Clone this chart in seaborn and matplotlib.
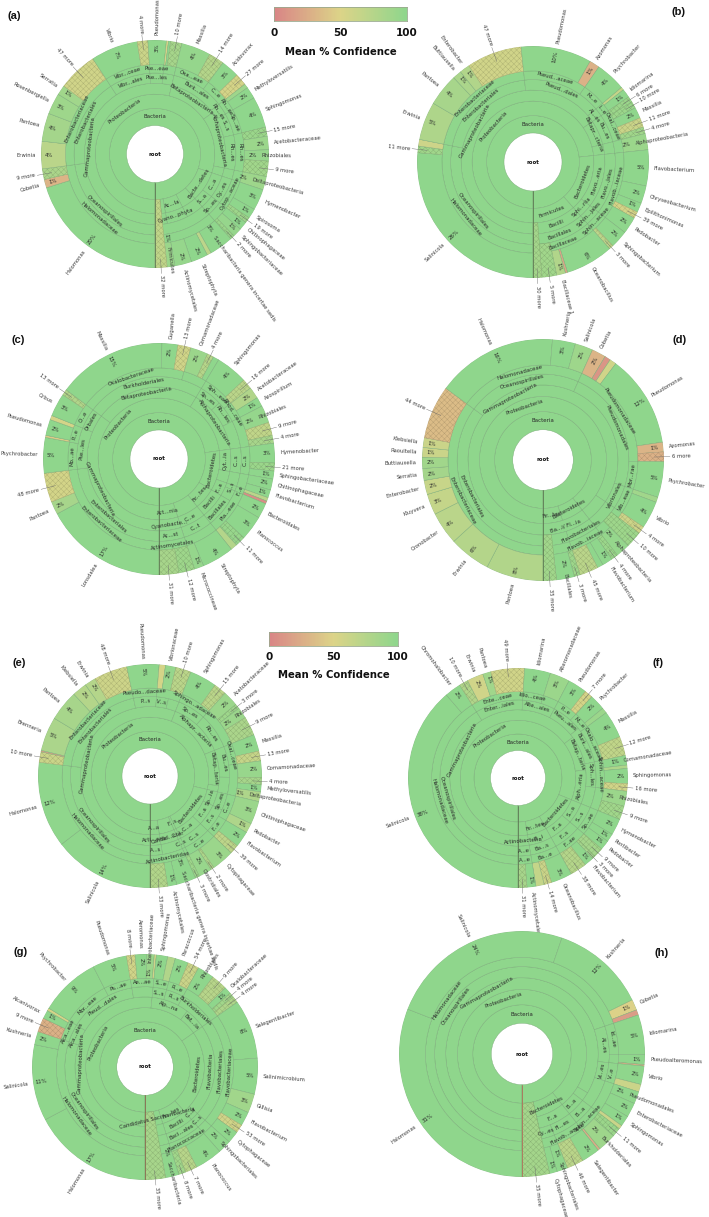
import numpy as np
import matplotlib
matplotlib.use("Agg")
import matplotlib.pyplot as plt
import seaborn as sns

W, H = 709, 1217
RADII = [0.25, 0.40, 0.525, 0.62, 0.71, 0.785, 1.0]

# panel (a)
a_names = ["Halomonas", "Cobetia", "9 more", "Erwinia", "Pantoea", "Rosenbergiella", "Serratia", "47 more", "Vibrio", "4 more",
           "Pseudomonas", "", "", "10 more", "Massilia", "14 more", "Acidovorax", "27 more", "", "Methyloversatilis",
           "Sphingomonas", "15 more", "Acetobacteraceae", "Rhizobiales", "9 more", "Deltaproteobacteria", "Hymenobacter",
           "Spirosoma", "19 more", "Chitinophagaceae", "Sphingobacteriaceae", "2 more", "Saccharibacteria genera incertae sedis",
           "", "Streptophyta", "Actinomycetales", "Firmicutes", "32 more"]
a_values = [20.2, 1.2, 1.5, 3.9, 4.0, 3.0, 1.4, 5.6, 6.7, 1.5, 2.6, 0.3, 0.3, 1.6, 4.2, 2.2, 2.6, 1.7, 0.6, 1.7, 4.4, 1.3,
            1.9, 1.6, 2.2, 1.9, 3.0, 1.4, 0.8, 1.2, 1.3, 0.6, 3.4, 0.6, 2.4, 2.4, 1.1, 1.7]
a_conf = [100, 30, 82, 72, 86, 90, 88, 58, 100, 62, 100, 55, 100, 85, 96, 76, 100, 55, 90, 100, 100, 92, 92, 95, 88, 90,
          100, 100, 90, 100, 95, 92, 100, 70, 100, 95, 92, 68]
a_rings = [
    [("Proteobacteria", 80.1), ("Bacte...detes", 88.4), ("", 92.4), ("Ac...la", 97.2), ("", 98.3)],
    [("Gammaproteobacteria", 53.8), ("Betaproteobacteria", 65.1), ("Alphaproteobacteria", 78.2), ("", 80.1), ("C...a", 85.3),
     ("S...a", 88.4), ("", 92.4), ("Cyano...phyta", 97.2)],
    [("Oceanospirillales", 22.9), ("Enterobacteriales", 40.8), ("Vibr...ales", 49), ("Pse...les", 51.6), ("", 53.8),
     ("Burk...ales", 64.5), ("Rh...es", 66.8), ("S...s", 71.2), ("Rh...es", 78.2), ("", 80.1), ("Cy...es", 85.3), ("Sp...es", 88.4)],
    [("Halomonadaceae", 22.9), ("Enterobacteriaceae", 40.8), ("Vibr...ceae", 49), ("Pse...eae", 51.6), ("", 53.8),
     ("Oxa...eae", 60.2), ("C...e", 64.5), ("Rh...ae", 66.8), ("Sp...ae", 71.2), ("Rh...es", 78.2), ("", 80.1), ("Cytop...aceae", 85.3),
     ("", 88.4)],
]
a_deep = {"32 more": 1}
a_inset = {"Firmicutes": 0.82, "Saccharibacteria genera incertae sedis": 0.89, "Deltaproteobacteria": 0.88, "Rhizobiales": 0.935}

# panel (b)
b_names = ["Salinicola", "11 more", "", "Erwinia", "Pantoea", "Buttiauxella", "Enterobacter", "47 more", "Pseudomonas", "Azomonas",
           "Psychrobacter", "", "Idiomarina", "6 more", "10 more", "Massilia", "11 more", "4 more", "Alphaproteobacteria",
           "Flavobacterium", "Chryseobacterium", "Epilithonimonas", "39 more", "Pedobacter", "Sphingobacterium", "3 more",
           "Oceanobacillus", "", "Bacillaceae 1", "5 more", "30 more"]
b_values = [25.6, 0.9, 0.9, 5.2, 4.4, 1.2, 1.4, 7.5, 9.6, 1.4, 4.1, 0.4, 1.2, 0.8, 0.9, 1.5, 1.3, 0.9, 2.2, 4.9, 2.4, 1.3,
            0.9, 2.3, 2.4, 0.6, 6.5, 0.3, 1.2, 2.0, 1.2]
b_conf = [100, 88, 60, 80, 84, 82, 78, 58, 100, 28, 100, 65, 100, 92, 92, 100, 62, 88, 92, 100, 100, 100, 55, 100, 100, 70,
          100, 20, 78, 88, 86]
b_rings = [
    [("Proteobacteria", 72.4), ("Bacteroidetes", 88.5), ("Firmicutes", 98.8)],
    [("Gammaproteobacteria", 63.7), ("Betapr...cteria", 70), ("", 72.4), ("Flavo...eria", 82.5), ("Sphi...riia", 88.5), ("Bacilli", 98.8)],
    [("Oceanospirillales", 27.3), ("Enterobacteriales", 47), ("Pseud...dales", 61.8), ("Al...es", 63.7), ("Bu...es", 70), ("", 72.4),
     ("Flavo...jales", 82.5), ("Sphin...jales", 88.5), ("Bacillales", 98.8)],
    [("Halomonadaceae", 27.3), ("Enterobacteriaceae", 47), ("Pseud...aceae", 57.7), ("M...e", 61.8), ("I...e", 63.7), ("Oxal...ceae", 70),
     ("", 72.4), ("Flavob...iaceae", 82.5), ("Sphin...aceae", 88.5), ("Bacillaceae", 98.8)],
]
b_deep = {"30 more": 2, "5 more": 4}
b_inset = {"Alphaproteobacteria": 0.90}

# panel (c)
c_names = ["Lonsdalea", "Pantoea", "48 more", "Psychrobacter", "", "Pseudomonas", "", "Orbus", "13 more", "Massilia", "Duganella",
           "13 more", "Comamonadaceae", "4 more", "", "Sphingomonas", "16 more", "Acetobacteraceae", "Azospirillum", "Rhizobiales",
           "9 more", "4 more", "Hymenobacter", "21 more", "Sphingobacteriaceae", "Chitinophagaceae", "Flavobacterium", "", "",
           "Bacteroidales", "Planococcus", "11 more", "", "Streptophyta", "Micrococcineae", "12 more", "31 more"]
c_values = [16.9, 1.8, 4.0, 4.9, 0.3, 2.2, 0.6, 3.2, 0.8, 15.0, 2.2, 1.8, 2.4, 0.9, 0.8, 4.4, 1.4, 1.6, 1.3, 2.4, 1.8, 1.1,
            2.7, 1.1, 1.1, 1.5, 1.1, 0.5, 0.4, 2.1, 3.4, 1.4, 0.9, 4.4, 1.3, 2.2, 2.7]
c_conf = [100, 84, 56, 100, 45, 100, 55, 100, 78, 100, 100, 58, 92, 75, 100, 100, 72, 78, 100, 96, 68, 84, 100, 92, 100, 100, 100,
          72, 5, 100, 100, 94, 76, 100, 96, 90, 84]
c_rings = [
    [("Proteobacteria", 72.5), ("Bacteroidetes", 83), ("Fir...tes", 89.1), ("", 93.8), ("Act...nia", 100)],
    [("Gammaproteobacteria", 34.7), ("Betaproteobacteria", 57.8), ("Alphaproteobacteria", 72.5), ("Cyt...ia", 76.3), ("", 78.9),
     ("F...a", 83), ("Bacilli", 89.1), ("C...e", 93.8), ("Cyanobacte...", 100)],
    [("Enterobacteriales", 22.7), ("Pse...les", 30.7), ("Orbales", 34.7), ("Burkholderiales", 57.8), ("Sp...es", 62.2), ("Rh...les", 66.8),
     ("", 72.5), ("C...s", 76.3), ("", 78.9), ("S...s", 80.9), ("", 83), ("Bacillales", 89.1), ("C...t", 93.8), ("Ac...st", 100)],
    [("Enterobacteriaceae", 22.7), ("Mo...ae", 27.6), ("P...e", 30.7), ("O...e", 34.7), ("Oxalobacteraceae", 53.7), ("", 57.8),
     ("Sph...eae", 63.6), ("Rhod...ceae", 66.8), ("", 72.5), ("C...s", 76.3), ("", 78.9), ("F...e", 80.9), ("Pla...eae", 89.1), ("", 93.8),
     ("Actinomycetales", 97.3)],
]
c_deep = {}
c_inset = {"Rhizobiales": 0.93}

# panel (d)
d_names = ["Pantoea", "Erwinia", "Cronobacter", "Kluyvera", "Enterobacter", "Serratia", "Buttiauxella", "Raoultella", "Klebsiella",
           "44 more", "Halomonas", "Kushneria", "Salinicola", "Cobetia", "", "", "Pseudomonas", "Azomonas", "6 more", "Psychrobacter", "",
           "Vibrio", "4 more", "10 more", "Alphaproteobacteria", "4 more", "Flavobacterium", "", "45 more", "3 more", "Bacillales", "35 more"]
d_values = [7.7, 5.6, 4.4, 2.8, 1.9, 1.6, 1.5, 1.3, 1.3, 7.2, 16.2, 3.1, 2.4, 1.9, 0.8, 0.9, 12.4, 1.3, 1.3, 4.8, 0.7, 3.7, 1.0,
            2.2, 1.9, 0.9, 1.4, 0.8, 2.5, 0.8, 2.4, 1.8]
d_conf = [78, 76, 72, 66, 64, 86, 88, 62, 62, 35, 100, 100, 90, 30, 10, 58, 100, 30, 28, 100, 88, 100, 60, 90, 96, 92, 100, 100, 72,
          90, 100, 88]
d_rings = [
    [("Proteobacteria", 89.4), ("Bacteroidetes", 95.8), ("Fir...tes", 100)],
    [("Gammaproteobacteria", 85.3), ("", 89.4), ("Ba...i/ Fl...ia", 100)],
    [("Enterobacteriales", 34.8), ("Oceanospirillales", 56.5), ("Pseudomonadales", 80.6), ("Vibrionales", 85.3), ("", 89.4),
     ("Flavobacteriales", 95.8)],
    [("Enterobacteriaceae", 34.8), ("Halomonadaceae", 56.5), ("Pseudomonadaceae", 75.1), ("Mor...rae", 80.6), ("Vib...eae", 85.3),
     ("", 89.4), ("Flavob...iaceae", 95.8)],
]
d_deep = {"35 more": 3, "10 more": 4}
d_inset = {"Alphaproteobacteria": 0.90, "Bacillales": 0.955}

# panel (e)
e_names = ["Salinicola", "Halomonas", "10 more", "", "Brenneria", "Pantoea", "Klebsiella", "Erwinia", "48 more", "Pseudomonas", "",
           "Vibrionaceae", "10 more", "Sphingomonas", "15 more", "Acetobacteraceae", "3 more", "Rhizobiales", "9 more", "Massilia",
           "13 more", "Comamonadaceae", "4 more", "Methyloversatilis", "Deltaproteobacteria", "Chitinophagaceae", "Pedobacter",
           "Flavobacterium", "39 more", "Cytophagaceae", "2 more", "Clostridiales", "3 more", "Saccharibacteria genera incertae sedis",
           "Actinomycetales", "33 more"]
e_values = [14.4, 12.3, 1.5, 0.2, 4.9, 4.4, 2.1, 1.6, 4.8, 4.6, 0.9, 1.5, 2.2, 3.9, 1.8, 2.2, 0.7, 1.6, 2.7, 2.4, 1.4, 2.4, 1.0,
            1.0, 1.4, 3.3, 1.4, 2.3, 1.3, 3.2, 0.5, 1.9, 0.6, 2.8, 1.3, 2.5]
e_conf = [100, 100, 62, 15, 82, 84, 76, 76, 60, 100, 55, 96, 72, 100, 72, 92, 90, 92, 82, 100, 65, 94, 85, 100, 80, 92, 80, 100, 70,
          92, 80, 94, 90, 100, 100, 78]
e_rings = [
    [("Proteobacteria", 78.2), ("Bacteroidetes", 90.9), ("F...s", 93.4), ("", 96.2), ("A...a", 100)],
    [("Gammaproteobacteria", 55.2), ("Alphapr...acteria", 68.1), ("Betap...teria", 76.5), ("", 78.2), ("Sp...ia", 81.6), ("F...a", 87.1),
     ("C...a", 90.9), ("C...i", 93.4), ("Candid...cter", 96.2), ("Acti...eria", 100)],
    [("Oceanospirillales", 26.7), ("Enterobacteriales", 46), ("P...s", 50.6), ("V...s", 53), ("", 55.2), ("Sp...es", 60.9), ("Rh...es", 68.1),
     ("Bu...es", 74.6), ("", 78.2), ("Sp...es", 81.6), ("F...s", 87.1), ("C...s", 90.9), ("C...s", 93.4), ("", 96.2), ("A...s", 100)],
    [("Halomonadaceae", 26.7), ("Enterobacteriaceae", 46), ("Pseudo...daceae", 50.6), ("", 55.2), ("Sphingo...adaceae", 60.9), ("", 68.1),
     ("Oxal...ceae", 72.1), ("", 78.2), ("C...e", 83.3), ("F...e", 87.1), ("C...e", 90.9), ("", 93.4), ("Actinobacteridae", 100)],
]
e_deep = {}
e_inset = {"Saccharibacteria genera incertae sedis": 0.90, "Deltaproteobacteria": 0.90, "Rhizobiales": 0.93, "Clostridiales": 0.955}

# panel (f)
f_names = ["Salinicola", "Chromohalobacter", "10 more", "Erwinia", "Pantoea", "49 more", "Idiomarina", "Alteromonadaceae", "Pseudomonas",
           "7 more", "Psychrobacter", "", "Massilia", "12 more", "Comamonadaceae", "", "Sphingomonas", "16 more", "Rhizobiales", "9 more",
           "Hymenobacter", "Pontibacter", "Pedobacter", "9 more", "3 more", "Flavobacterium", "38 more", "Oceanobacillus", "14 more", "",
           "Actinomycetales", "31 more"]
f_values = [38.4, 2.4, 1.3, 2.4, 1.2, 4.9, 3.8, 2.9, 2.8, 1.2, 2.3, 0.8, 4.0, 2.8, 1.4, 0.5, 2.2, 1.1, 2.2, 2.0, 2.4, 1.2, 1.4, 1.5,
            0.4, 1.4, 2.4, 3.1, 1.1, 1.2, 1.3, 1.3]
f_conf = [100, 100, 78, 58, 88, 58, 100, 92, 100, 55, 100, 92, 100, 68, 100, 80, 100, 58, 92, 88, 100, 100, 100, 86, 86, 100, 76, 100,
          62, 66, 100, 84]
f_rings = [
    [("Proteobacteria", 80.5), ("Bacteroidetes", 91.9), ("Fir...tes", 96.2)],
    [("Gammaproteobacteria", 64.3), ("Betap...teria", 72.5), ("Alph...eria", 80.5), ("S...a", 85.6), ("F...a", 91.9), ("B...i", 96.2),
     ("Actinobacteria", 100)],
    [("Oceanospirillales", 40.8), ("Enter...iales", 50.5), ("Alte...ales", 57.2), ("Pseu...ales", 63.5), ("Burk...ales", 71.1),
     ("Sph...les", 76.3), ("", 80.5), ("S...s", 85.6), ("F...s", 91.9), ("Ba...s", 96.2), ("A...e", 100)],
    [("Halomonadaceae", 40.8), ("Ente...ceae", 50.5), ("Idio...ceae", 54.3), ("", 57.2), ("P...e", 61.2), ("M...e", 64.3),
     ("Oxalo...aceae", 71.1), ("Sphin...aceae", 76.3), ("", 80.5), ("Sp...ae", 85.6), ("F...ae", 91.9), ("Ba...e", 96.2), ("A...e", 100)],
]
f_deep = {}
f_inset = {"Rhizobiales": 0.935, "Comamonadaceae": 0.975}

# panel (g)
g_names = ["Halomonas", "Salinicola", "Kushneria", "9 more", "Alcanivorax", "", "Psychrobacter", "Pseudomonas", "8 more", "Aeromonas",
           "Interobacteriaceae", "", "Sphingomonas", "", "Paracoccus", "54 more", "Rhizobiales", "9 more", "Oxalobacteraceae", "4 more",
           "4 more", "Salegentibacter", "Salinimicrobium", "Gillisia", "Flavobacterium", "53 more", "Cytophagaceae", "Sphingobacteriales",
           "Planococcus", "7 more", "8 more", "Saccharibacteria", "35 more"]
g_values = [17.1, 10.8, 1.9, 2.0, 1.2, 0.4, 8.6, 4.9, 1.2, 1.6, 1.1, 0.3, 1.6, 1.1, 1.9, 1.6, 2.4, 2.3, 1.0, 0.7, 0.9, 8.4, 5.1,
            2.7, 2.0, 1.2, 1.7, 1.9, 3.9, 1.7, 1.0, 1.9, 2.9]
g_conf = [100, 100, 100, 28, 100, 55, 100, 100, 58, 100, 92, 58, 100, 78, 100, 62, 100, 74, 100, 88, 80, 100, 100, 88, 100, 58,
          100, 100, 100, 74, 88, 100, 84]
g_rings = [
    [("Proteobacteria", 65.4), ("Bacteroidetes", 88.6), ("Fir...tes", 95.1), ("Candidatus Saccharibacteria", 97.1)],
    [("Gammaproteobacteria", 51.4), ("Alp...na", 60.4), ("Bet...ia", 65.4), ("Flavobacteria", 85), ("C...a", 88.6), ("Bacilli", 95.1)],
    [("Oceanospirillales", 30), ("Alca...ales", 33.6), ("Pleud...dales", 47.1), ("", 51.4), ("S...s", 54.4), ("R...s", 57.9),
     ("Burkholderiales", 65.4), ("Flavobacteriales", 85), ("C...s", 86.7), ("S...s", 88.6), ("Baci...ales", 95.1)],
    [("Halomonadaceae", 30), ("Alca...eae", 33.6), ("Mor...eae", 42.2), ("Ps...ae", 47.1), ("Ae...ae", 51.4), ("S...e", 54.4), ("R...e", 57.9),
     ("", 65.4), ("Flavobacteriaceae", 85), ("", 88.6), ("Planococcaceae", 95.1)],
]
g_deep = {"35 more": 1}
g_inset = {"Saccharibacteria": 0.86, "Rhizobiales": 0.935, "Interobacteriaceae": 0.92, "Sphingobacteriales": 0.94}

# panel (h)
h_names = ["Halomonas", "Salinicola", "Kushneria", "Cobetia", "", "Idiomarina", "Pseudoalteromonas", "", "Vibrio", "", "Pseudomonadales",
           "Enterobacteriaceae", "Sphingomonas", "", "11 more", "Burkholderiales", "", "Salegentibacter", "46 more", "Sphingobacteriales",
           "Cytophagaceae", "35 more"]
h_values = [30.8, 24.2, 12.4, 1.4, 0.7, 5.2, 1.3, 0.2, 2.4, 1.0, 1.6, 1.9, 1.4, 0.5, 1.2, 2.4, 0.3, 2.4, 2.2, 1.4, 1.0, 3.6]
h_conf = [100, 100, 100, 48, 15, 100, 100, 25, 100, 62, 100, 100, 100, 62, 92, 90, 25, 100, 72, 100, 100, 86]
h_rings = [
    [("Proteobacteria", 88.8), ("Bacteroidetes", 96.4)],
    [("Gammaproteobacteria", 83.1), ("", 85.2), ("B...a", 88.8), ("F...a", 96.4)],
    [("Oceanospirillales", 69.5), ("Al...es", 76.2), ("Vi...es", 79.6), ("", 85.2), ("B...a", 88.8), ("Fl...es", 93.7), ("Cy...es", 96.4)],
    [("Halomonadaceae", 69.5), ("Id...ae", 74.7), ("", 76.2), ("V...e", 79.6), ("", 85.2), ("Sphin...aceae", 88.8), ("Flavob...aceae", 93.7)],
]
h_deep = {"35 more": 1}
h_inset = {"Burkholderiales": 0.935, "Sphingobacteriales": 0.935, "Pseudomonadales": 0.935}

sns.set_theme(style="white")
plt.rcParams["font.family"] = ["DejaVu Sans"]
plt.rcParams["hatch.linewidth"] = 0.25

conf_cmap = sns.blend_palette(["#d98686", "#dcd488", "#8fd68c"], as_cmap=True)
EDGE = "#78aa76"
TEXT = "#2b2b2b"


def radial(t_deg):
    a = (-90 - t_deg) % 360
    if a < 90 or a > 270:
        return a, "left"
    return a + 180, "right"


def tangent(t_deg):
    rot = (-t_deg) % 180
    return rot if rot <= 90 else rot - 180


def spread(mids, gap=0.85):
    mids = list(mids)
    for _ in range(40):
        for i in range(len(mids) - 1):
            d = gap - (mids[i + 1] - mids[i])
            if d > 0:
                mids[i] -= d / 2
                mids[i + 1] += d / 2
    return mids


def draw_krona(pos, names, values, conf, rings, deep, inset, seam):
    cx, cy, radius = pos
    ax = fig.add_axes([(cx - radius) / W, 1 - (cy + radius) / H, 2 * radius / W, 2 * radius / H], projection="polar")
    ax.set_theta_zero_location("S")
    ax.set_theta_direction(-1)
    ax.set_ylim(0, 1)
    ax.axis("off")

    values = np.array(values, dtype=float)
    ends = np.cumsum(values)
    starts = ends - values
    scale = 2 * np.pi / ends[-1]
    to_deg = 360 / ends[-1]

    # Bacteria ring, then phylum to family
    ax.bar(0, RADII[1] - RADII[0], width=2 * np.pi, bottom=RADII[0], align="edge", color=conf_cmap(1.0), edgecolor=EDGE, linewidth=0.3)
    ax.text(np.pi, (RADII[0] + RADII[1]) / 2, "Bacteria", fontsize=4, color=TEXT, ha="center", va="center", rotation=0)
    ax.text(0, 0, "root", fontsize=4, weight="bold", color="#111111", ha="center", va="center")

    for level, nodes in enumerate(rings):
        r0, r1 = RADII[level + 1], RADII[level + 2]
        prev = 0.0
        for label, end in nodes + [("", ends[-1])]:
            snapped = ends[np.argmin(np.abs(ends - end))]
            if snapped <= prev:
                continue
            ax.bar(prev * scale, r1 - r0, width=(snapped - prev) * scale, bottom=r0, align="edge",
                   color=conf_cmap(1.0), edgecolor=EDGE, linewidth=0.3)
            if label:
                mid = (prev + snapped) / 2
                ax.text(mid * scale, (r0 + r1) / 2, label, fontsize=3.9, color=TEXT, ha="center", va="center",
                        rotation=tangent(mid * to_deg), rotation_mode="anchor", zorder=6)
            prev = snapped

    for name, start, val, c in zip(names, starts, values, conf):
        r0 = RADII[deep.get(name, 5)] if name else RADII[5]
        more = name.endswith(" more")
        fill = np.array(conf_cmap(c / 100)[:3])
        ax.bar(start * scale, 1 - r0, width=val * scale, bottom=r0, align="edge", color=fill,
               edgecolor=fill * 0.8 if more else EDGE, linewidth=0.3, hatch="xxxxxx" if more else None, zorder=3)

    shown = [i for i, n in enumerate(names) if n]
    mids = spread([starts[i] + values[i] / 2 for i in shown])
    for i, mid in zip(shown, mids):
        name = names[i]
        t = mid * to_deg
        rot, ha = radial(t)
        true_mid = (starts[i] + values[i] / 2) * scale
        if name.endswith(" more"):
            ax.plot([true_mid, mid * scale], [0.92, 1.05], color="#666666", lw=0.3, zorder=5, clip_on=False)
            ax.text(mid * scale, 1.065, name, fontsize=3.8, color="#3a3a3a", rotation=rot, ha=ha, va="center",
                    rotation_mode="anchor", clip_on=False, zorder=7)
        else:
            r_label = inset.get(name, 1.045)
            ax.text(mid * scale, r_label, name, fontsize=3.8, color="#3a3a3a", rotation=rot, ha=ha, va="center",
                    rotation_mode="anchor", clip_on=False, zorder=7)
            if values[i] >= 0.9:
                r_pct = r_label - 0.08 if name in inset else 0.93
                ax.text(true_mid, r_pct, f"{round(values[i])}%", fontsize=3.9, color=TEXT, rotation=rot, ha="center", va="center",
                        rotation_mode="anchor", zorder=6)

    ax.plot([0, 0], [RADII[0], 1], color=seam, lw=0.6, zorder=5)
    return ax


def color_bar(x0, x1, y0, y1, tick_y, title_y):
    ax = fig.add_axes([x0 / W, 1 - y1 / H, (x1 - x0) / W, (y1 - y0) / H])
    sns.heatmap(np.arange(0, 101).reshape(1, -1), cmap=conf_cmap, vmin=0, vmax=100, cbar=False,
                xticklabels=False, yticklabels=False, ax=ax)
    for spine in ax.spines.values():
        spine.set_visible(True)
        spine.set_color("#9aa98f")
        spine.set_linewidth(0.6)
    for frac, tick in zip([0, 0.5, 1], ["0", "50", "100"]):
        fig.text((x0 + frac * (x1 - x0)) / W, 1 - tick_y / H, tick, fontsize=7.5, weight="bold", color="#111111", ha="center", va="center")
    fig.text((x0 + x1) / 2 / W, 1 - title_y / H, "Mean % Confidence", fontsize=7.3, weight="bold", color="#111111", ha="center", va="center")


fig = plt.figure(figsize=(W / 100, H / 100), dpi=100)

draw_krona((155, 154, 114), a_names, a_values, a_conf, a_rings, a_deep, a_inset, "#5f7a55")
draw_krona((533, 162, 116), b_names, b_values, b_conf, b_rings, b_deep, b_inset, "#5f7a55")
draw_krona((159, 459, 116), c_names, c_values, c_conf, c_rings, c_deep, c_inset, "#5f7a55")
draw_krona((543, 460, 121), d_names, d_values, d_conf, d_rings, d_deep, d_inset, "#5f7a55")
draw_krona((150, 776, 112), e_names, e_values, e_conf, e_rings, e_deep, e_inset, "#5f7a55")
draw_krona((518, 778, 110), f_names, f_values, f_conf, f_rings, f_deep, f_inset, "#5f7a55")
draw_krona((145, 1067, 113), g_names, g_values, g_conf, g_rings, g_deep, g_inset, "#8a6a50")
draw_krona((522, 1054, 123), h_names, h_values, h_conf, h_rings, h_deep, h_inset, "#b0705a")

color_bar(274, 407, 7, 21, 33, 52)
color_bar(269, 398, 632, 646, 657, 675)

panel_tags = ["(a)", "(b)", "(c)", "(d)", "(e)", "(f)", "(g)", "(h)"]
tag_x = [14, 679, 18, 680, 19, 658, 21, 662]
tag_y = [16, 12, 340, 340, 663, 663, 952, 953]
for tag, x, y in zip(panel_tags, tag_x, tag_y):
    fig.text(x / W, 1 - y / H, tag, fontsize=8, weight="bold", family="Liberation Sans", color="#111111", ha="center", va="center")

fig.savefig("out.png", dpi=100)
